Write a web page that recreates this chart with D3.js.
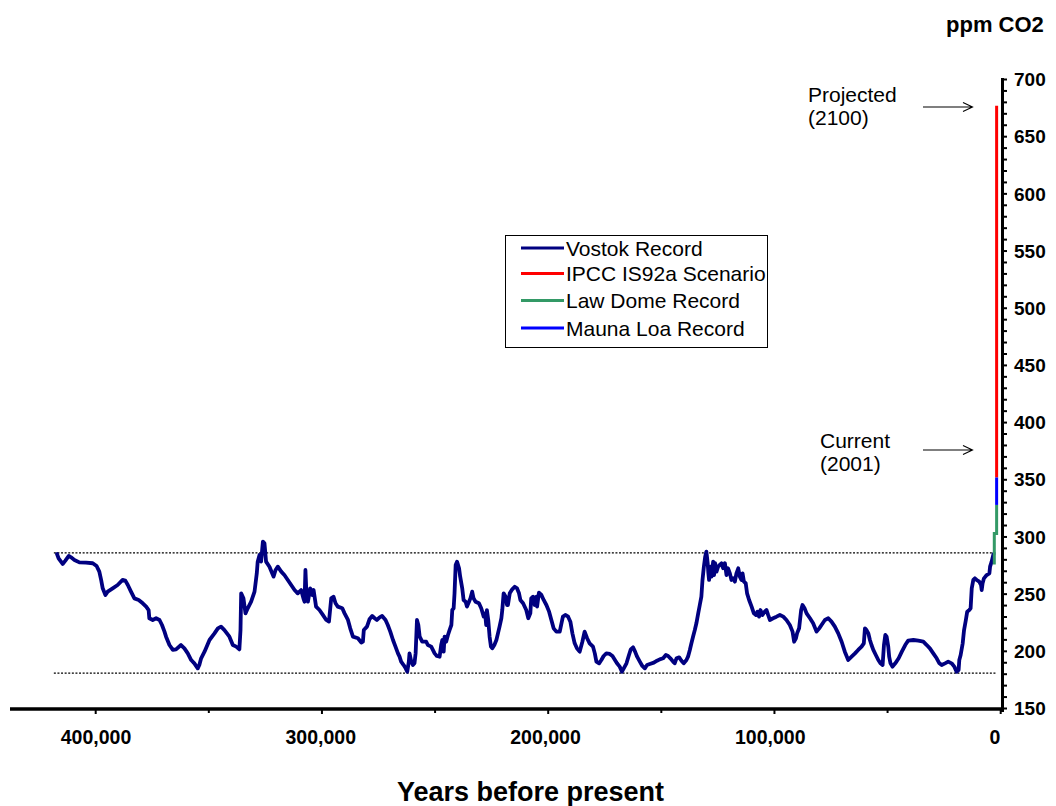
<!DOCTYPE html>
<html><head><meta charset="utf-8">
<script src="https://cdn.jsdelivr.net/npm/d3@7"></script>
<style>
body{margin:0;background:#fff}
svg{display:block}
text{font-family:"Liberation Sans",Arial,Helvetica,sans-serif;fill:#000}
</style>
</head><body>
<svg id="chart" width="1056" height="806"></svg>
<script>
// ---------- DATA (years before present, ppm CO2) ----------
const vostok = [
[417100,285.1],[416400,281.3],[414600,276.4],[413400,279.3],[411900,283.4],[410900,282.2],[409400,279.9],[407200,277.8],
[404300,277.5],[401300,277.0],[399600,274.6],[398400,269.7],[397600,262.4],[396900,255.1],[395700,249.3],[394700,252.2],
[392500,255.1],[390300,258.0],[388100,262.4],[386900,261.8],[385800,258.0],[384400,252.2],[382900,246.3],[381000,244.9],
[379200,242.0],[377700,239.1],[376600,236.1],[376300,228.9],[374800,227.4],[373300,228.9],[371800,227.4],[370700,223.0],
[369600,217.2],[368900,212.8],[367400,205.5],[365900,201.2],[364500,201.7],[362300,205.5],[360800,202.6],[359300,198.2],
[357800,192.4],[356400,189.5],[354900,185.1],[354200,188.0],[353400,193.9],[351900,199.7],[349700,209.9],[347500,215.7],
[346000,220.1],[344600,221.6],[343100,218.6],[340900,212.8],[339400,205.5],[337900,204.1],[336500,201.7],[336000,218.6],
[335700,250.7],[334700,246.3],[333800,233.2],[332800,237.6],[331300,243.4],[329800,252.2],[328800,268.2],[328400,278.4],
[327600,284.2],[326900,278.4],[326100,295.9],[325400,294.4],[324700,278.4],[323200,274.0],[322000,268.2],[321400,265.3],
[320500,271.1],[319500,274.0],[318000,269.7],[316600,266.7],[315100,262.4],[313600,258.0],[312100,253.6],[310700,250.7],
[309200,253.6],[308200,246.3],[307700,243.4],[307300,271.1],[306800,247.8],[306200,243.4],[305200,255.1],[304300,249.3],
[303700,253.6],[302600,239.1],[301100,236.1],[299600,231.8],[298100,227.4],[296900,226.0],
[295900,246.3],[294900,247.8],[294000,242.0],[293000,239.1],[291000,237.6],[290000,233.2],[288500,227.4],[287500,220.1],
[286300,212.8],[284100,211.4],[282600,207.6],[281900,208.4],[281500,218.6],[280100,221.6],[279000,228.0],[277800,230.9],
[276700,228.9],[275700,227.4],[274500,229.7],[273400,230.9],[271900,227.4],[270900,223.0],[269800,217.2],[268600,209.9],
[267500,204.1],[266400,198.2],[265700,195.3],[265000,191.0],[263900,188.0],[263000,185.1],[262300,182.2],[261600,191.0],
[261300,198.2],[260500,191.0],[259800,188.0],[259100,189.5],[258600,198.2],[258000,227.4],[257400,223.0],[256800,212.8],
[255700,208.4],[253900,208.4],[253200,205.5],[251700,204.1],[250200,198.2],[249200,195.9],[248000,195.3],[247300,205.5],
[246800,209.9],[246200,199.7],[245800,212.8],[245100,208.4],[244300,214.3],[243600,218.6],[242800,223.0],[242400,236.1],
[241800,237.6],[241400,250.7],[240900,275.5],[240300,278.4],[239400,272.6],[238900,265.3],[238000,255.1],[237400,244.9],
[236500,243.4],[235900,239.1],[235000,243.4],[234400,246.3],[233600,252.2],[233000,246.3],[232100,243.4],[230600,242.0],
[229600,237.6],[228500,230.3],[227900,233.2],[227400,223.0],[227100,236.1],[226500,227.4],[225900,212.8],[225300,204.1],
[224700,202.6],[223800,205.5],[222900,209.9],[222200,215.7],[221500,221.6],[220700,228.9],[220300,236.1],[219700,250.7],
[218800,247.8],[218200,240.5],[217800,240.5],[217000,250.7],[215900,254.2],[214800,256.5],[213800,255.1],[212900,250.7],
[212300,244.9],[211100,242.0],[209700,236.1],[208800,228.9],[207900,233.2],[207500,246.3],[206700,247.8],[206000,240.5],
[205200,247.8],[204900,239.1],[204100,251.3],[203000,249.3],[202000,244.9],[200800,240.5],[199600,234.7],[198600,227.4],
[197600,220.1],[196400,217.2],[194900,217.2],[194300,223.0],[193500,230.3],[192300,231.8],[191200,230.3],[190200,225.9],
[189300,215.7],[188300,207.0],[187300,202.6],[186100,199.7],[184900,208.4],[183900,217.2],[182800,211.4],[181700,207.0],
[180200,204.1],[179400,198.2],[178700,191.0],[177500,189.5],[176500,192.4],[175500,195.9],[174300,198.2],[172800,197.7],
[171600,195.9],[170500,192.4],[169600,189.5],[168400,186.6],[167400,182.2],[166600,185.1],[165400,189.5],[164300,196.8],
[163500,201.7],[162500,203.5],[161600,199.7],[160700,195.3],[159500,191.0],[158400,187.2],[157300,185.1],[156300,188.0],
[155100,188.9],[153300,190.1],[151900,191.8],[150700,193.0],[149200,193.9],[148000,196.8],[147000,195.9],[146000,193.9],
[144800,191.0],[144100,189.5],[143300,193.9],
[142100,194.7],[141100,191.8],[140100,189.5],[138900,192.4],[138200,195.3],[137400,201.2],[136700,207.0],[135900,213.4],
[135200,218.6],[134500,224.5],[133700,233.2],[133000,240.5],[132300,247.8],[131800,262.4],[131200,274.0],[130600,282.8],
[130100,287.2],[129500,277.0],[129200,268.2],[128900,262.4],[128300,274.0],[127800,265.3],[127100,278.4],[126700,266.7],
[126200,277.0],[125600,269.7],[124900,274.0],[124200,275.5],[123400,277.0],[122700,272.6],[121900,277.0],[121200,266.7],
[120500,272.6],[119700,268.2],[119000,262.4],[118300,263.8],[117500,260.9],[116800,268.2],[116000,272.6],[115300,265.3],
[114600,262.4],[114100,268.2],[113500,260.9],[112700,259.5],[112100,250.7],[111200,244.9],[110100,239.1],[109100,233.2],
[108200,231.8],[107500,234.7],[106800,230.3],[106200,236.1],[105300,231.8],[104300,234.7],[103500,236.1],[102800,231.8],
[102000,227.4],[100600,228.9],[99100,230.3],[97600,231.8],[96100,230.3],[94700,227.4],[93200,223.0],[92000,217.2],
[91300,208.4],[90500,211.4],[90000,215.7],[89100,220.1],[88200,236.1],[87600,240.5],[86700,237.6],[85800,233.2],
[84300,228.9],[82900,224.5],[81400,217.2],[80200,220.1],[79200,223.0],[77700,227.4],[76200,228.9],[74800,226.0],
[73300,221.6],[71800,215.7],[70300,208.4],[68900,199.7],[67400,192.4],[65900,195.3],[64400,198.2],[63000,201.2],
[61500,204.1],[60500,207.0],[60000,220.1],[59300,218.6],[58500,215.7],[57800,209.9],[57100,205.5],[56300,201.2],
[55200,196.8],[54100,192.4],[53100,189.5],[52200,188.0],[51600,205.5],[51000,214.3],[50400,212.8],[49700,204.1],
[49300,195.3],[48700,189.5],[47800,186.6],[46600,189.5],[45100,193.9],[43700,199.7],[42200,205.5],[40900,209.3],
[38600,209.9],[36400,209.3],[34200,208.4],[32700,205.5],[31300,202.6],[29800,198.2],[28300,193.9],[27100,189.5],
[26100,188.0],[24600,189.5],[23200,191.0],[21700,189.5],[20500,186.6],[19500,182.2],[18600,183.7],[18300,192.4],
[17700,196.8],[16800,207.0],[16200,218.6],[15400,227.4],[14800,234.7],[13900,236.1],[13300,237.6],[12800,255.1],
[12100,262.4],[11400,263.8],[10600,262.4],[9500,260.9],[8700,258.0],[8400,253.6],[8000,259.5],[7400,263.8],
[6200,266.7],[5000,268.2],[4700,274.0],[4000,278.4],[3200,285.0]
];
const lawDome  = [[2830,276],[2830,303],[1800,303],[1800,328]];
const maunaLoa = [[1800,328],[1800,352]];
const ipcc     = [[1800,352],[1800,677]];

const refLevels = [286, 181];          // dotted reference lines (ppm)
const refSpan   = [418500, 1800];      // years they span

const xTicks      = [400000,350000,300000,250000,200000,150000,100000,50000,0];
const xTickLabels = [400000,300000,200000,100000,0];
const yMinorTicks = [150,160,170,180,190,200,210,220,230,240,250,260,270,280,290,300,310,320,330,340,350,
                     360,370,380,390,400,410,420,430,440,450,460,470,480,490,500,510,520,530,540,550,560,570,
                     580,590,600,610,620,630,640,650,660,670,680,690,700];
const yTickLabels = [150,200,250,300,350,400,450,500,550,600,650,700];

const legendLabels = ["Vostok Record","IPCC IS92a Scenario","Law Dome Record","Mauna Loa Record"];
const legendColors = ["#000080","#ff0000","#339966","#0000ff"];

const notes = [
  {lines:["Projected","(2100)"], arrowPpm:676},
  {lines:["Current","(2001)"],   arrowPpm:376}
];

// ---------- DRAW ----------
const svg = d3.select("#chart");
const x = d3.scaleLinear().domain([400000, 0]).range([95.7, 1000.7]);
const xLab = d3.scaleLinear().domain([400000, 0]).range([96, 995]);   // label placement as in source
const y = d3.scaleLinear().domain([150, 700]).range([708.5, 79.5]);
const line = d3.line().x(d => x(d[0])).y(d => y(d[1]));

// reference dotted lines
svg.append("g").selectAll("line").data(refLevels).join("line")
  .attr("x1", x(refSpan[0])).attr("x2", x(refSpan[1]))
  .attr("y1", d => y(d)).attr("y2", d => y(d))
  .attr("stroke", "#000").attr("stroke-width", 1.3)
  .attr("stroke-dasharray", "2,1.6");

// Vostok
svg.append("path").datum(vostok).attr("d", line)
  .attr("fill", "none").attr("stroke", legendColors[0]).attr("stroke-width", 3.8)
  .attr("stroke-linejoin", "round").attr("stroke-linecap", "round");

// modern series
[[ipcc, legendColors[1]], [lawDome, legendColors[2]], [maunaLoa, legendColors[3]]].forEach(([d, c]) => {
  svg.append("path").datum(d).attr("d", line)
    .attr("fill", "none").attr("stroke", c).attr("stroke-width", 3)
    .attr("stroke-linejoin", "miter");
});

// X axis
const xAxisY = 709;
svg.append("line").attr("x1", 10).attr("x2", 1003).attr("y1", xAxisY).attr("y2", xAxisY)
  .attr("stroke", "#000").attr("stroke-width", 3.6);
svg.append("g").selectAll("line").data(xTicks).join("line")
  .attr("x1", d => x(d)).attr("x2", d => x(d))
  .attr("y1", xAxisY).attr("y2", d => xAxisY + (d % 100000 === 0 ? 5 : 4))
  .attr("stroke", "#000").attr("stroke-width", 2);
svg.append("g").selectAll("text").data(xTickLabels).join("text")
  .attr("x", d => xLab(d)).attr("y", 744)
  .attr("text-anchor", "middle").attr("font-size", 19.5).attr("font-weight", "bold")
  .text(d => d3.format(",")(d));

// Y axis
const yAxisX = 1002.5;
svg.append("line").attr("x1", yAxisX).attr("x2", yAxisX).attr("y1", 78).attr("y2", 712)
  .attr("stroke", "#000").attr("stroke-width", 3);
svg.append("g").selectAll("line").data(yMinorTicks).join("line")
  .attr("x1", yAxisX).attr("x2", yAxisX + 4.5)
  .attr("y1", d => y(d)).attr("y2", d => y(d))
  .attr("stroke", "#000").attr("stroke-width", 2);
svg.append("g").selectAll("text").data(yTickLabels).join("text")
  .attr("x", 1014).attr("y", d => y(d)).attr("dy", "0.35em")
  .attr("font-size", 19).attr("font-weight", "bold")
  .text(d => d);

// axis titles
svg.append("text").attr("x", 946).attr("y", 31.5)
  .attr("font-size", 22).attr("font-weight", "bold").text("ppm CO2");
svg.append("text").attr("x", 530.5).attr("y", 801).attr("text-anchor", "middle")
  .attr("font-size", 27).attr("font-weight", "bold").text("Years before present");

// legend
const lg = svg.append("g");
lg.append("rect").attr("x", 505.5).attr("y", 235.5).attr("width", 262).attr("height", 112)
  .attr("fill", "#fff").attr("stroke", "#000").attr("stroke-width", 1);
const rowY = [248, 273.5, 300.5, 328];
legendLabels.forEach((lab, i) => {
  lg.append("line").attr("x1", 521).attr("x2", 564).attr("y1", rowY[i]).attr("y2", rowY[i])
    .attr("stroke", legendColors[i]).attr("stroke-width", 3);
  lg.append("text").attr("x", 566).attr("y", rowY[i]).attr("dy", "0.36em")
    .attr("font-size", 21).text(lab);
});

// annotations
const noteX = [808, 820];
const noteBase = [102, 448];
notes.forEach((n, i) => {
  n.lines.forEach((t, j) => {
    svg.append("text").attr("x", noteX[i]).attr("y", noteBase[i] + j * 22.5)
      .attr("font-size", 21).text(t);
  });
  const ay = y(n.arrowPpm);
  svg.append("path")
    .attr("d", `M923,${ay}H972.5M963,${ay-4.5}L972.5,${ay}L963,${ay+4.5}`)
    .attr("fill", "none").attr("stroke", "#000").attr("stroke-width", 1.1);
});
</script>
</body></html>
